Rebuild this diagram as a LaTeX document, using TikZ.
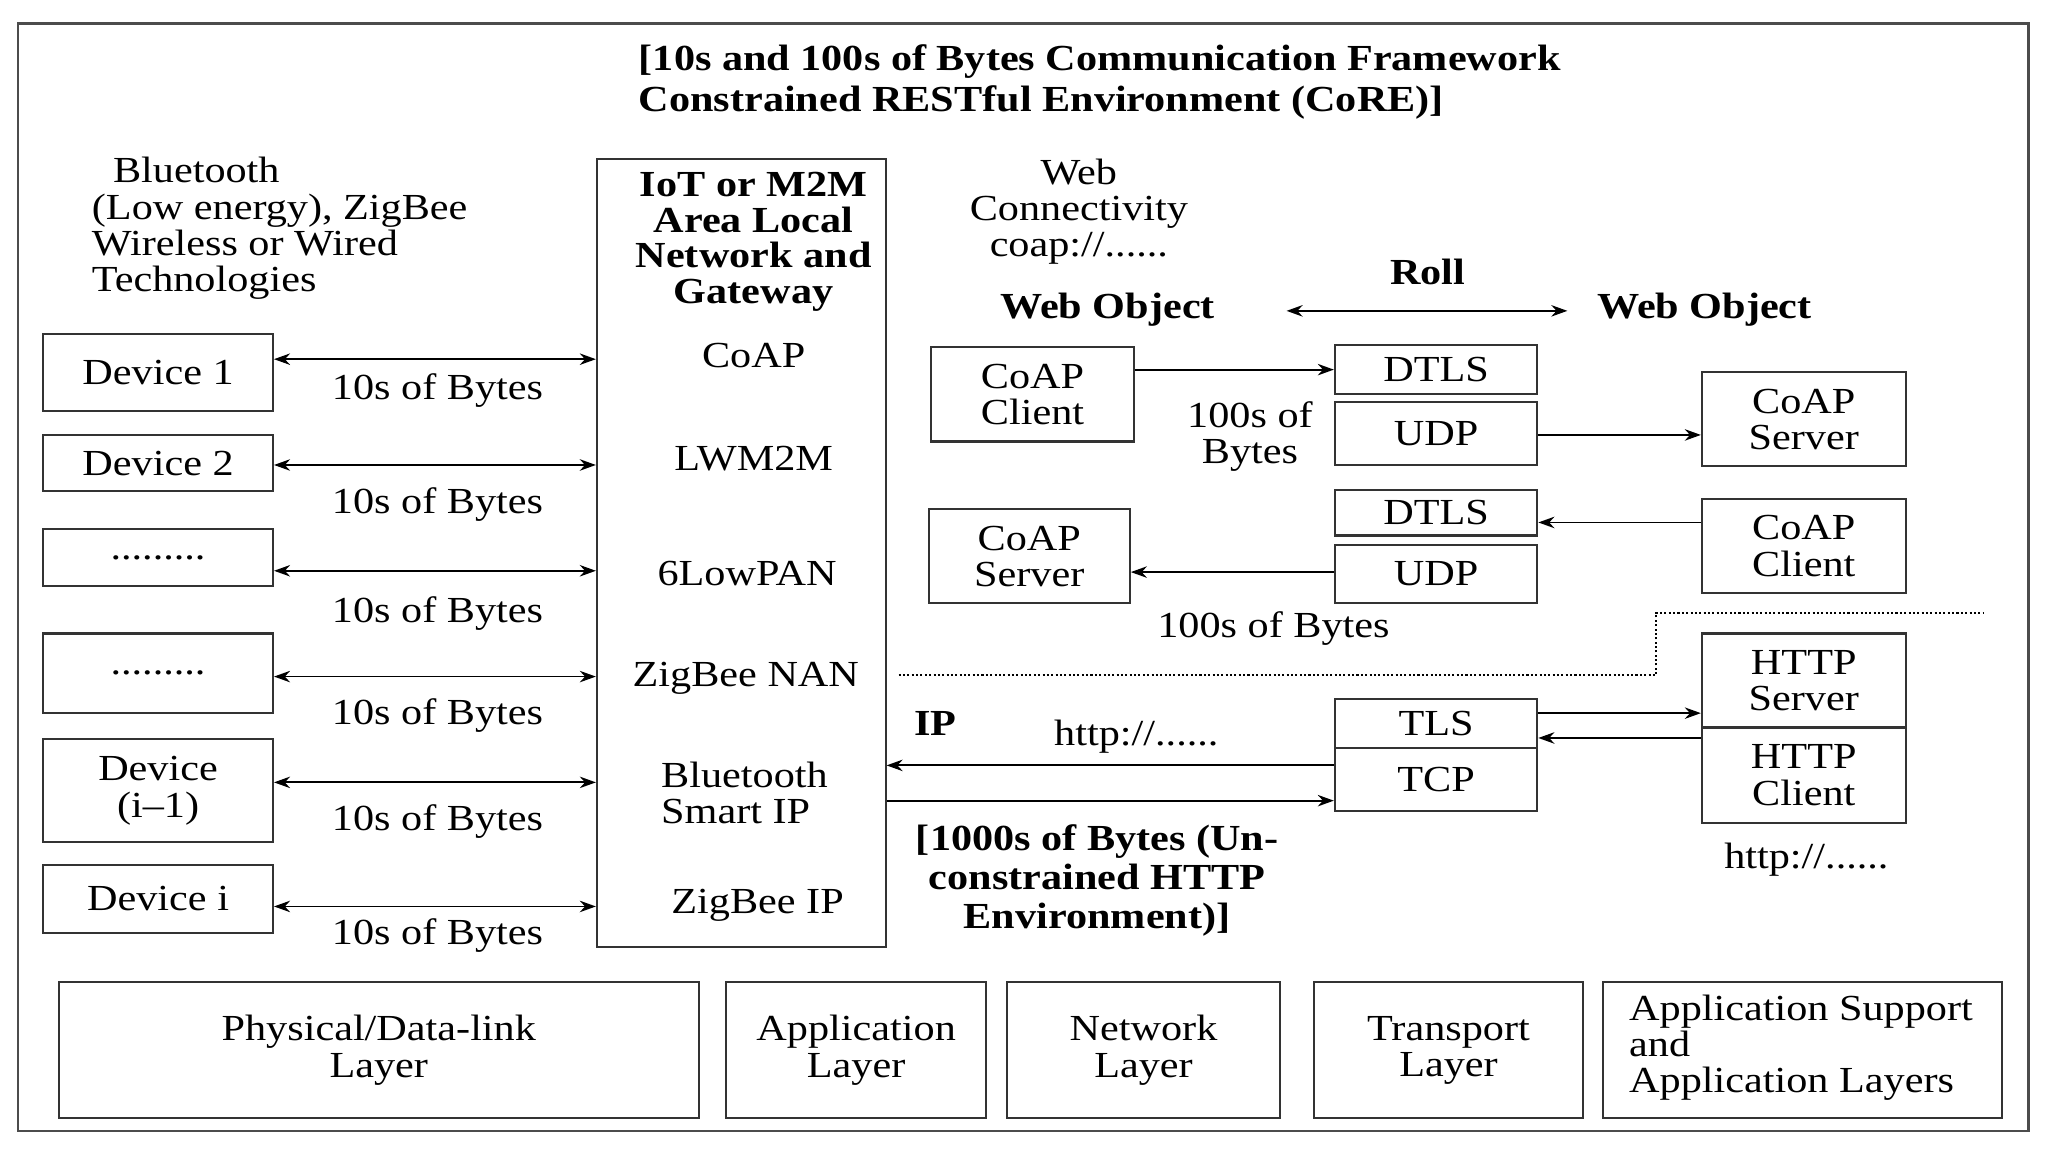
\documentclass[tikz,border=0pt]{standalone}
\usepackage{fontspec}
\setmainfont[FakeStretch=1.15]{Liberation Serif}
\usetikzlibrary{arrows.meta}
\tikzset{
  box/.style={draw=black!80, line width=0.9pt, inner sep=0pt, align=center},
  lbl/.style={inner sep=0pt, align=center},
  biglbl/.style={inner sep=0pt, align=center, font=\fontsize{16}{17}\selectfont\bfseries},
  link/.style={line width=0.8pt, -{Stealth[length=7pt,width=5pt]}},
  dlink/.style={line width=0.8pt, {Stealth[length=7pt,width=5pt]}-{Stealth[length=7pt,width=5pt]}}
}
% box from (x1,y1) to (x2,y2) in pixel units
\newcommand{\pbox}[6]{\node[box, minimum width={(#4-#2)*0.02cm}, minimum height={(#5-#3)*0.02cm}] (#1) at ({(#2+#4)/2},{(#3+#5)/2}) {#6};}
\begin{document}
\begin{tikzpicture}[x=0.02cm, y=-0.02cm, font=\fontsize{16}{15.8}\selectfont]
  \useasboundingbox (0,0) rectangle (1568,882);
  \fill[white] (0,0) rectangle (1568,882);
  \draw[line width=1pt, black!70] (14,18) rectangle (1553,866);

  % title
  \node[biglbl, align=left, font=\fontsize{16}{18}\selectfont\bfseries] (title) at (842,63) {[10s and 100s of Bytes Communication Framework\\Constrained RESTful Environment (CoRE)]};
  \node[lbl, align=left, anchor=west] (tech) at (70,175) {\ \ Bluetooth\\(Low energy), ZigBee\\Wireless or Wired\\Technologies};

  % devices
  \pbox{dev1}{33}{256}{209}{315}{Device 1}
  \pbox{dev2}{33}{333}{209}{376}{Device 2}
  \pbox{dev3}{33}{405}{209}{449}{.........}
  \pbox{dev4}{33}{485}{209}{546}{.........}
  \pbox{dev5}{33}{566}{209}{645}{Device\\(i--1)}
  \pbox{dev6}{33}{662}{209}{714}{Device i}

  % gateway
  \pbox{gw}{457}{122}{678}{725}{}
  \node[biglbl, font=\fontsize{16}{15.5}\selectfont\bfseries] (gwt) at (577,185) {IoT or M2M\\Area Local\\Network and\\Gateway};
  \node[lbl] (coap) at (577,272) {CoAP};
  \node[lbl] (lwm) at (577,351) {LWM2M};
  \node[lbl] (lowpan) at (572,439) {6LowPAN};
  \node[lbl] (nan) at (571,519) {ZigBee NAN};
  \node[lbl, align=left] (bsip) at (570,607) {Bluetooth\\Smart IP};
  \node[lbl] (zip) at (580,693) {ZigBee IP};

  % device links
  \foreach \d/\y/\ly in {dev1/275/299, dev2/356/386, dev3/437/470, dev4/518/548, dev5/599/629, dev6/694/716}{
    \draw[dlink] (\d.east |- 0,\y) -- (gw.west |- 0,\y);
    \node[lbl] at (335,\ly) {10s of Bytes};
  }

  % web objects
  \node[lbl] (webc) at (826,162) {Web\\Connectivity\\coap://......};
  \node[biglbl] (wo1) at (848,237) {Web Object};
  \node[biglbl] (roll) at (1093,208) {Roll};
  \node[biglbl] (wo2) at (1305,237) {Web Object};
  \coordinate (r1) at (985,238);
  \coordinate (r2) at (1200,238);
  \draw[dlink] (r1) -- (r2);

  % CoAP over UDP
  \pbox{cc1}{713}{266}{868}{338}{CoAP\\Client}
  \pbox{dtls1}{1022}{264}{1177}{302}{DTLS}
  \pbox{udp1}{1022}{308}{1177}{356}{UDP}
  \pbox{cs1}{1303}{285}{1459}{357}{CoAP\\Server}
  \node[lbl] (b1) at (957,334) {100s of\\Bytes};
  \draw[link] (cc1.east |- 0,283) -- (dtls1.west |- 0,283);
  \draw[link] (udp1.east |- 0,333) -- (cs1.west |- 0,333);

  \pbox{dtls2}{1022}{375}{1177}{410}{DTLS}
  \pbox{udp2}{1022}{417}{1177}{462}{UDP}
  \pbox{cs2}{711}{390}{865}{462}{CoAP\\Server}
  \pbox{cc2}{1303}{382}{1459}{454}{CoAP\\Client}
  \node[lbl] (b2) at (975,481) {100s of Bytes};
  \draw[link] (cc2.west |- 0,400) -- (dtls2.east |- 0,400);
  \draw[link] (udp2.west |- 0,438) -- (cs2.east |- 0,438);

  % boundary
  \draw[densely dotted, line width=0.9pt] (688,517) -- (1268,517) -- (1268,469) -- (1518,469);

  % HTTP over TCP
  \pbox{hs}{1303}{485}{1459}{557}{HTTP\\Server}
  \pbox{hc}{1303}{557}{1459}{630}{HTTP\\Client}
  \pbox{tls}{1022}{535}{1177}{573}{TLS}
  \pbox{tcp}{1022}{573}{1177}{621}{TCP}
  \draw[link] (tls.east |- 0,546) -- (hs.west |- 0,546);
  \draw[link] (hc.west |- 0,565) -- (tls.east |- 0,565);
  \draw[link] (tcp.west |- 0,586) -- (gw.east |- 0,586);
  \draw[link] (gw.east |- 0,613) -- (tcp.west |- 0,613);
  \node[biglbl] (ip) at (716,554) {IP};
  \node[lbl] (http1) at (870,564) {http://......};
  \node[biglbl] (kb) at (840,674) {[1000s of Bytes (Un-\\constrained HTTP\\Environment)]};
  \node[lbl] (http2) at (1383,658) {http://......};

  % layers
  \pbox{l1}{45}{752}{535}{856}{Physical/Data-link\\Layer}
  \pbox{l2}{556}{752}{755}{856}{Application\\Layer}
  \pbox{l3}{771}{752}{980}{856}{Network\\Layer}
  \pbox{l4}{1006}{752}{1212}{856}{Transport\\Layer}
  \pbox{l5}{1227}{752}{1533}{856}{}
  \node[lbl, align=left, anchor=west] (l5t) at (1247,802) {Application Support\\and\\Application Layers};
\end{tikzpicture}
\end{document}
